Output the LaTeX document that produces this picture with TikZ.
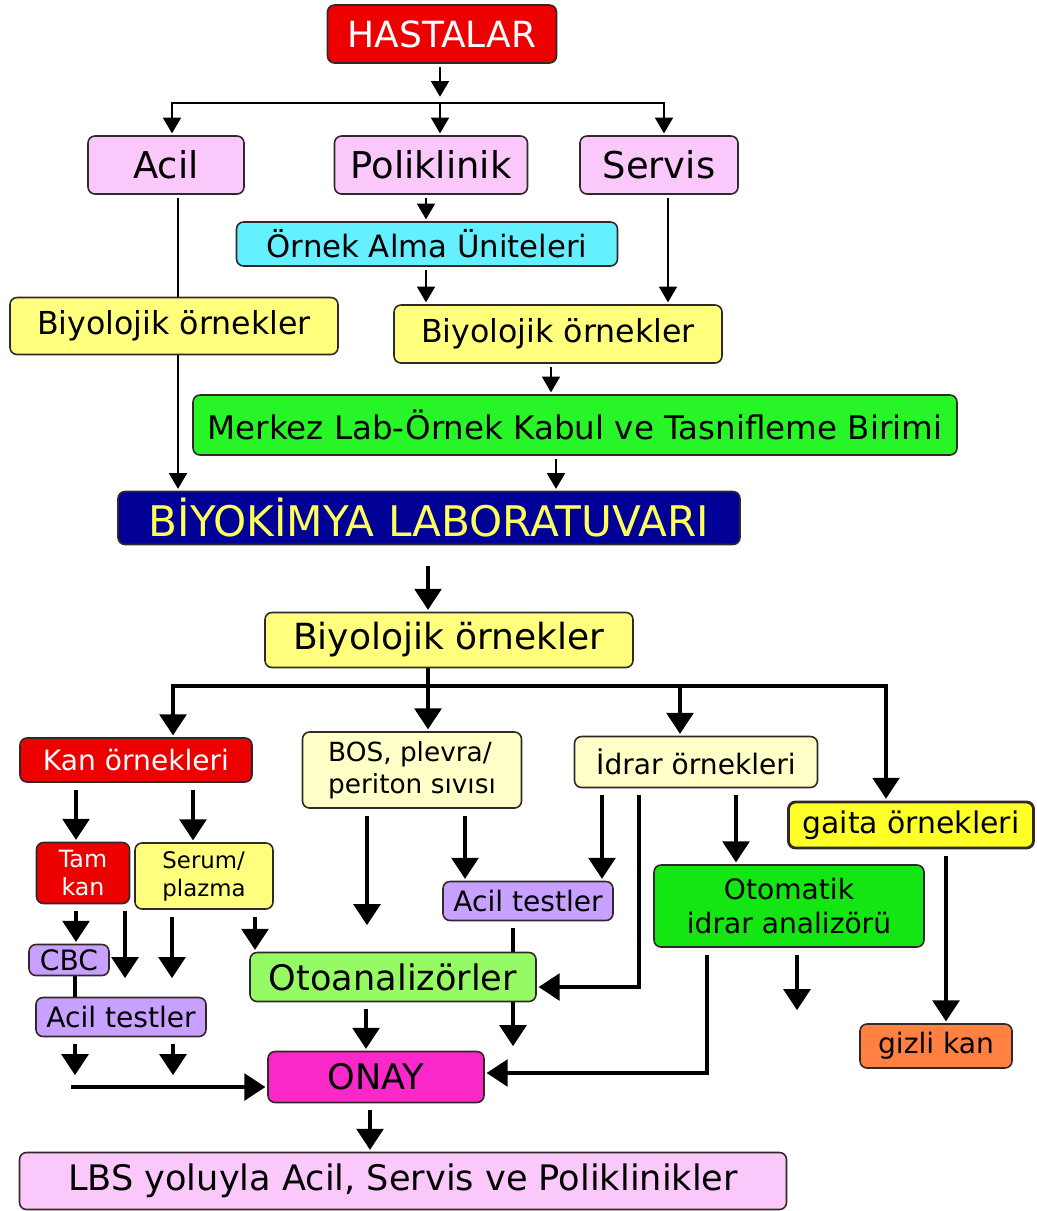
\documentclass[tikz,border=0pt]{standalone}
\usepackage{fontspec}
\setmainfont{DejaVu Sans}
\usetikzlibrary{arrows.meta,backgrounds}
\definecolor{kirmizi}{RGB}{236,0,0}
\definecolor{pembe}{RGB}{250,200,250}
\definecolor{camgobegi}{RGB}{100,240,255}
\definecolor{sari}{RGB}{255,255,125}
\definecolor{yesil}{RGB}{40,245,40}
\definecolor{lacivert}{RGB}{0,0,150}
\definecolor{labyazi}{RGB}{255,255,90}
\definecolor{acsari}{RGB}{255,255,200}
\definecolor{koyusari}{RGB}{255,255,40}
\definecolor{mor}{RGB}{200,160,255}
\definecolor{acikyesil}{RGB}{150,250,100}
\definecolor{koyuyesil}{RGB}{20,230,20}
\definecolor{turuncu}{RGB}{255,128,64}
\definecolor{eflatun}{RGB}{250,40,200}
\definecolor{cerceve}{RGB}{50,40,40}
\tikzset{
  kutu/.style={draw=cerceve,line width=0.9pt,rounded corners=4pt,inner sep=0pt},
  baslik/.style={fill=kirmizi,text=white,font=\fontsize{20.5}{24}\selectfont},
  birim/.style={fill=pembe,font=\fontsize{21}{25}\selectfont},
  orta/.style={font=\fontsize{18}{22}\selectfont},
  kucuk/.style={font=\fontsize{16}{19}\selectfont},
  ust/.style={line width=1.7pt,-{Triangle[width=10pt,length=9pt]},shorten <=2pt,shorten >=1pt},
  alt/.style={line width=2.6pt,-{Triangle[width=15pt,length=12pt]},shorten <=4pt,shorten >=1pt},
  duz/.style={line width=2.6pt}
}
\newcommand{\kutu}[7]{\node[kutu,#2,minimum width=#5*0.02cm,minimum height=#6*0.02cm] (#1) at (#3,#4) {#7};}
\newcommand{\ok}[4]{\draw[#1] (#3.south -| #2,0) -- (#4.north -| #2,0);}
\begin{document}
\begin{tikzpicture}[x=0.02cm,y=-0.02cm]
    \useasboundingbox (0,0) rectangle (1036,1211);
    \kutu{has}{baslik}{442}{34}{229}{58}{HASTALAR}
    \kutu{acil}{birim}{166}{165}{156}{58}{Acil}
    \kutu{poli}{birim}{431}{165}{193}{58}{Poliklinik}
    \kutu{serv}{birim}{659}{165}{158}{58}{Servis}
    \kutu{ornek}{fill=camgobegi,font=\fontsize{17.5}{21}\selectfont}{427}{244}{381}{44}{Örnek Alma Üniteleri}
    \kutu{biyoL}{fill=sari,orta}{174}{326}{328}{57}{Biyolojik örnekler}
    \kutu{biyoR}{fill=sari,orta}{558}{334}{328}{58}{Biyolojik örnekler}
    \kutu{merkez}{fill=yesil,font=\fontsize{18.5}{22}\selectfont}{575}{425}{764}{60}{Merkez Lab-Örnek Kabul ve Tasnifleme Birimi}
    \kutu{lab}{fill=lacivert,text=labyazi,font=\fontsize{24}{28}\selectfont}{429}{518}{622}{53}{BİYOKİMYA LABORATUVARI}
    \kutu{biyoA}{fill=sari,font=\fontsize{20.5}{24}\selectfont}{449}{640}{368}{55}{Biyolojik örnekler}
    \kutu{kan}{fill=kirmizi,text=white,kucuk}{136}{760}{232}{44}{Kan örnekleri}
    \kutu{bos}{fill=acsari,align=left,font=\fontsize{15}{18}\selectfont}{412}{770}{219}{76}{BOS, plevra/\\periton sıvısı}
    \kutu{idrar}{fill=acsari,kucuk}{696}{762}{243}{51}{İdrar örnekleri}
    \kutu{gaita}{fill=koyusari,line width=1.6pt,font=\fontsize{17}{20}\selectfont}{911}{825}{245}{46}{gaita örnekleri}
    \kutu{tam}{fill=kirmizi,text=white,align=center,font=\fontsize{13.5}{16}\selectfont}{83}{873}{93}{61}{Tam\\kan}
    \kutu{serum}{fill=sari,align=left,font=\fontsize{13}{16}\selectfont}{204}{876}{138}{66}{Serum/\\plazma}
    \kutu{cbc}{fill=mor,kucuk}{69}{960}{80}{31}{CBC}
    \kutu{acilL}{fill=mor,kucuk}{121}{1017}{170}{39}{Acil testler}
    \kutu{acilM}{fill=mor,kucuk}{528}{901}{170}{39}{Acil testler}
    \kutu{oto}{fill=acikyesil,font=\fontsize{20}{24}\selectfont}{393}{977}{286}{49}{Otoanalizörler}
    \kutu{otomatik}{fill=koyuyesil,align=center,kucuk}{789}{906}{270}{82}{Otomatik\\idrar analizörü}
    \kutu{gizli}{fill=turuncu,kucuk}{936}{1046}{152}{44}{gizli kan}
    \kutu{onay}{fill=eflatun,font=\fontsize{20}{24}\selectfont}{376}{1077}{216}{51}{ONAY}
    \kutu{lbs}{fill=pembe,font=\fontsize{20}{24}\selectfont}{403}{1181}{767}{57}{LBS yoluyla Acil, Servis ve Poliklinikler}

    \begin{scope}[on background layer]
    % ust kisim
    \coordinate (catal) at (440,103);
    \draw[ust,shorten >=3.5pt] (has.south -| catal) -- (catal);
    \draw[ust,shorten <=0pt] (catal) -| (acil.north -| 172,0);
    \draw[ust,shorten <=0pt] (catal) -- (poli.north -| catal);
    \draw[ust,shorten <=0pt] (catal) -| (serv.north -| 664,0);
    \ok{ust}{426}{poli}{ornek} \ok{ust}{426}{ornek}{biyoR}
    \ok{ust}{668}{serv}{biyoR} \ok{ust}{551}{biyoR}{merkez}
    \ok{ust}{556}{merkez}{lab} \ok{ust}{178}{acil}{lab}
    % alt kisim
    \draw[alt,shorten <=12pt] (lab.south -| 428,0) -- (biyoA.north -| 428,0);
    \coordinate (catal2) at (428,686);
    \draw[duz] (biyoA.south -| catal2) -- (catal2);
    \draw[alt,shorten <=0pt] (catal2) -| (kan.north -| 173,0);
    \draw[alt,shorten <=0pt] (catal2) -- (bos.north -| catal2);
    \draw[alt,shorten <=0pt] (catal2) -| (gaita.north -| 886,0);
    \draw[alt,shorten <=0pt] (catal2 -| 680,0) -- (idrar.north -| 680,0);
    \ok{alt}{76}{kan}{tam} \ok{alt}{193}{kan}{serum}
    \ok{alt}{465}{bos}{acilM} \ok{alt}{602}{idrar}{acilM}
    \ok{alt}{736}{idrar}{otomatik} \ok{alt}{946}{gaita}{gizli}
    \ok{alt}{76}{tam}{cbc} \ok{alt}{255}{serum}{oto}
    \ok{alt}{366}{oto}{onay} \ok{alt}{370}{onay}{lbs}
    \draw[duz] (cbc.south -| 75,0) -- (acilL.north -| 75,0);
    \draw[alt] (idrar.south -| 639,0) |- (oto.east |- 0,987);
    \draw[alt] (otomatik.south -| 707,0) |- (onay.east |- 0,1073);
    % bos uclar
    \coordinate (u1) at (367,927); \draw[alt] (bos.south -| u1) -- (u1);
    \coordinate (u2) at (125,980); \draw[alt] (tam.south -| u2) -- (u2);
    \coordinate (u3) at (172,980); \draw[alt] (serum.south -| u3) -- (u3);
    \coordinate (u4) at (75,1077); \draw[alt] (acilL.south -| u4) -- (u4);
    \coordinate (u5) at (173,1077); \draw[alt] (acilL.south -| u5) -- (u5);
    \coordinate (u6) at (71,1087); \draw[alt,shorten <=0pt] (u6) -- (onay.west |- u6);
    \coordinate (u7) at (513,1048); \draw[alt] (acilM.south -| u7) -- (u7);
    \coordinate (u8) at (797,1012); \draw[alt] (otomatik.south -| u8) -- (u8);
    \end{scope}
\end{tikzpicture}
\end{document}
